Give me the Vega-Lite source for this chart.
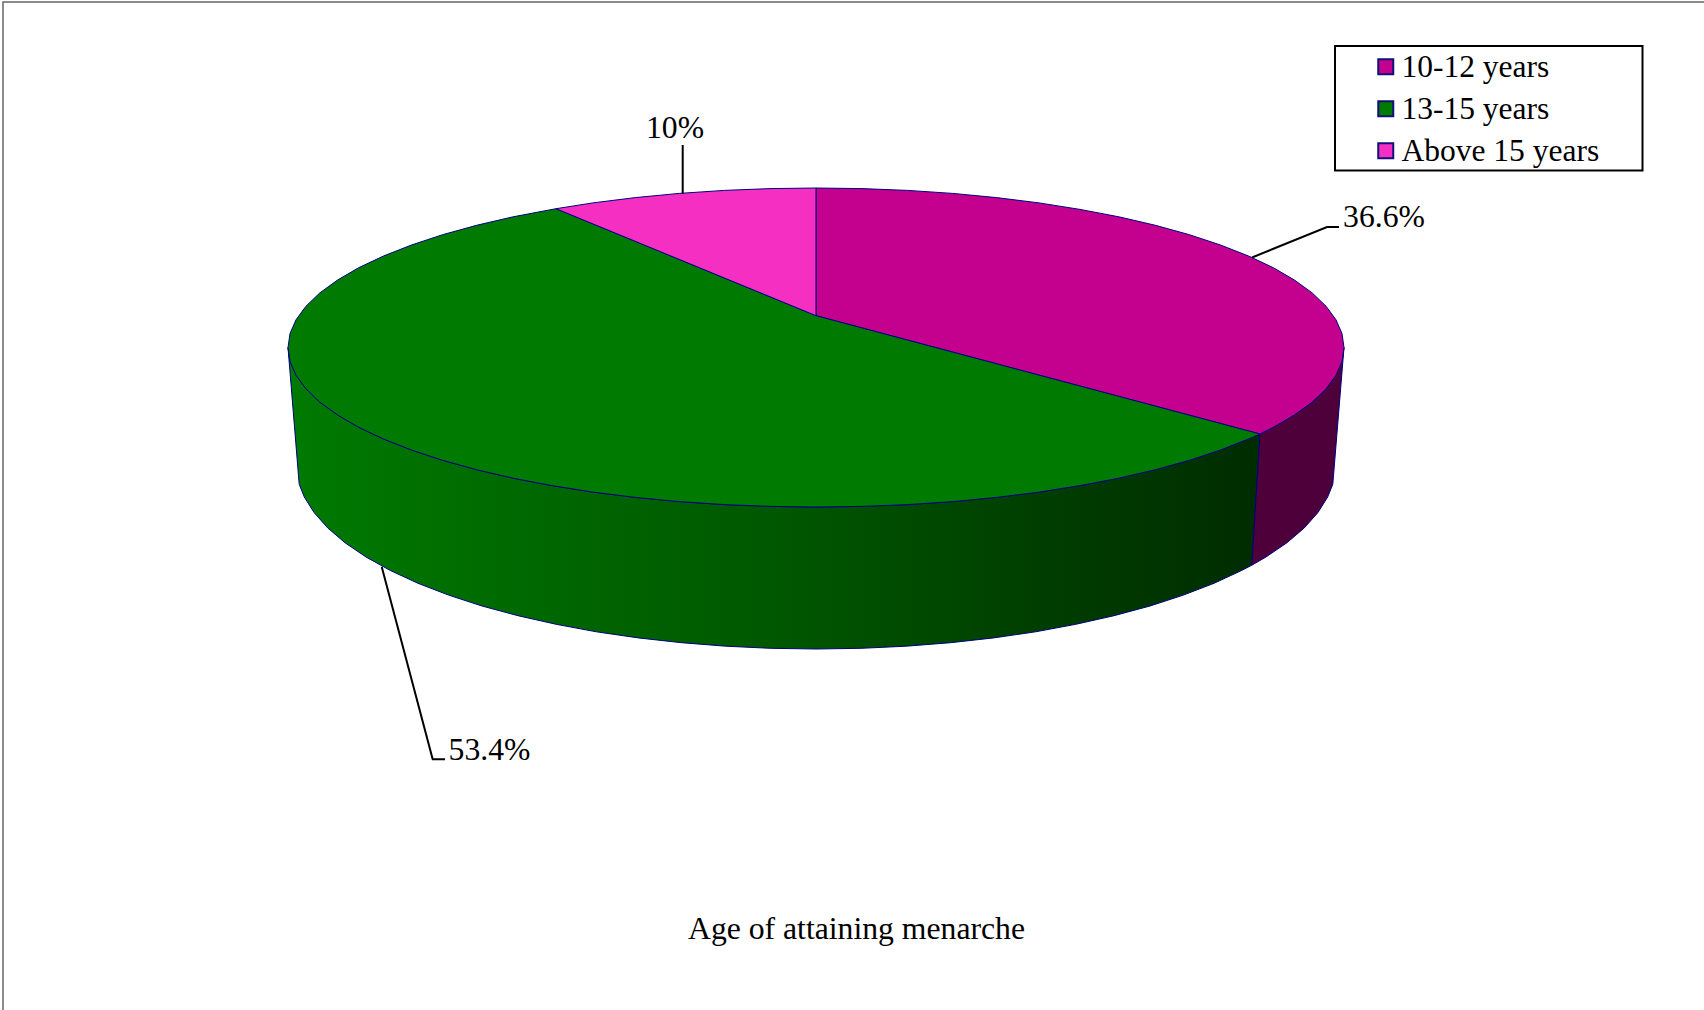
{
  "$schema": "https://vega.github.io/schema/vega-lite/v6.json",
  "width": 1704,
  "height": 1010,
  "padding": 0,
  "autosize": "none",
  "background": "white",
  "view": {"stroke": null},
  "config": {"font": "Liberation Serif"},
  "datasets": {
    "frame": [
      {"x": 3, "y": 1010}, {"x": 3, "y": 2}, {"x": 1704, "y": 2}
    ],
    "legendBox": [
      {"x": 1335, "x2": 1642.5, "y": 46, "y2": 170.5}
    ],
    "greenWall": [
      {"x": 288, "y": 347.5}, {"x": 299.2, "y": 484.2}, {"x": 304.3, "y": 497}, {"x": 314.1, "y": 512.6},
      {"x": 327.7, "y": 527.9}, {"x": 345.1, "y": 542.8}, {"x": 366, "y": 557}, {"x": 390.4, "y": 570.5},
      {"x": 418, "y": 583.3}, {"x": 448.6, "y": 595.1}, {"x": 482, "y": 606}, {"x": 518, "y": 615.7},
      {"x": 556.2, "y": 624.3}, {"x": 596.4, "y": 631.8}, {"x": 638.3, "y": 637.9}, {"x": 681.5, "y": 642.7},
      {"x": 725.8, "y": 646.2}, {"x": 770.7, "y": 648.3}, {"x": 816, "y": 649}, {"x": 861.3, "y": 648.3},
      {"x": 906.2, "y": 646.2}, {"x": 950.5, "y": 642.7}, {"x": 993.7, "y": 637.9}, {"x": 1035.6, "y": 631.8},
      {"x": 1075.8, "y": 624.3}, {"x": 1114, "y": 615.7}, {"x": 1150, "y": 606}, {"x": 1183.4, "y": 595.1},
      {"x": 1214, "y": 583.3}, {"x": 1241.6, "y": 570.5}, {"x": 1251.8, "y": 565.2}, {"x": 1260, "y": 434},
      {"x": 1248.5, "y": 439}, {"x": 1220.5, "y": 450}, {"x": 1189.4, "y": 460.3}, {"x": 1155.4, "y": 469.7},
      {"x": 1118.8, "y": 478.2}, {"x": 1080, "y": 485.6}, {"x": 1039.1, "y": 492.1}, {"x": 996.6, "y": 497.4},
      {"x": 952.7, "y": 501.6}, {"x": 907.7, "y": 504.6}, {"x": 862, "y": 506.4}, {"x": 816, "y": 507},
      {"x": 770, "y": 506.4}, {"x": 724.3, "y": 504.6}, {"x": 679.3, "y": 501.6}, {"x": 635.4, "y": 497.4},
      {"x": 592.9, "y": 492.1}, {"x": 552, "y": 485.6}, {"x": 513.2, "y": 478.2}, {"x": 476.6, "y": 469.7},
      {"x": 442.6, "y": 460.3}, {"x": 411.5, "y": 450}, {"x": 383.5, "y": 439}, {"x": 358.7, "y": 427.3},
      {"x": 337.5, "y": 414.9}, {"x": 319.8, "y": 402.1}, {"x": 306, "y": 388.8}, {"x": 296, "y": 375.2},
      {"x": 290, "y": 361.4}, {"x": 288, "y": 347.5}
    ],
    "magentaWall": [
      {"x": 1260, "y": 434}, {"x": 1251.8, "y": 565.2}, {"x": 1266, "y": 557}, {"x": 1286.9, "y": 542.8},
      {"x": 1304.3, "y": 527.9}, {"x": 1317.9, "y": 512.6}, {"x": 1327.7, "y": 497}, {"x": 1332.8, "y": 484.2},
      {"x": 1344, "y": 347.5}, {"x": 1342, "y": 361.4}, {"x": 1336, "y": 375.2}, {"x": 1326, "y": 388.8},
      {"x": 1312.2, "y": 402.1}, {"x": 1294.5, "y": 414.9}, {"x": 1273.3, "y": 427.3}, {"x": 1260, "y": 434}
    ],
    "slices": [
      {"age": "10-12 years", "x": 816, "y": 315.7}, {"age": "10-12 years", "x": 816, "y": 188},
      {"age": "10-12 years", "x": 862, "y": 188.6}, {"age": "10-12 years", "x": 907.7, "y": 190.4},
      {"age": "10-12 years", "x": 952.7, "y": 193.4}, {"age": "10-12 years", "x": 996.6, "y": 197.6},
      {"age": "10-12 years", "x": 1039.1, "y": 202.9}, {"age": "10-12 years", "x": 1080, "y": 209.4},
      {"age": "10-12 years", "x": 1118.8, "y": 216.8}, {"age": "10-12 years", "x": 1155.4, "y": 225.3},
      {"age": "10-12 years", "x": 1189.4, "y": 234.7}, {"age": "10-12 years", "x": 1220.5, "y": 245},
      {"age": "10-12 years", "x": 1248.5, "y": 256}, {"age": "10-12 years", "x": 1273.3, "y": 267.7},
      {"age": "10-12 years", "x": 1294.5, "y": 280.1}, {"age": "10-12 years", "x": 1312.2, "y": 292.9},
      {"age": "10-12 years", "x": 1326, "y": 306.2}, {"age": "10-12 years", "x": 1336, "y": 319.8},
      {"age": "10-12 years", "x": 1342, "y": 333.6}, {"age": "10-12 years", "x": 1344, "y": 347.5},
      {"age": "10-12 years", "x": 1342, "y": 361.4}, {"age": "10-12 years", "x": 1336, "y": 375.2},
      {"age": "10-12 years", "x": 1326, "y": 388.8}, {"age": "10-12 years", "x": 1312.2, "y": 402.1},
      {"age": "10-12 years", "x": 1294.5, "y": 414.9}, {"age": "10-12 years", "x": 1273.3, "y": 427.3},
      {"age": "10-12 years", "x": 1260, "y": 434}, {"age": "10-12 years", "x": 816, "y": 315.7},

      {"age": "13-15 years", "x": 816, "y": 315.7}, {"age": "13-15 years", "x": 1260, "y": 434},
      {"age": "13-15 years", "x": 1248.5, "y": 439}, {"age": "13-15 years", "x": 1220.5, "y": 450},
      {"age": "13-15 years", "x": 1189.4, "y": 460.3}, {"age": "13-15 years", "x": 1155.4, "y": 469.7},
      {"age": "13-15 years", "x": 1118.8, "y": 478.2}, {"age": "13-15 years", "x": 1080, "y": 485.6},
      {"age": "13-15 years", "x": 1039.1, "y": 492.1}, {"age": "13-15 years", "x": 996.6, "y": 497.4},
      {"age": "13-15 years", "x": 952.7, "y": 501.6}, {"age": "13-15 years", "x": 907.7, "y": 504.6},
      {"age": "13-15 years", "x": 862, "y": 506.4}, {"age": "13-15 years", "x": 816, "y": 507},
      {"age": "13-15 years", "x": 770, "y": 506.4}, {"age": "13-15 years", "x": 724.3, "y": 504.6},
      {"age": "13-15 years", "x": 679.3, "y": 501.6}, {"age": "13-15 years", "x": 635.4, "y": 497.4},
      {"age": "13-15 years", "x": 592.9, "y": 492.1}, {"age": "13-15 years", "x": 552, "y": 485.6},
      {"age": "13-15 years", "x": 513.2, "y": 478.2}, {"age": "13-15 years", "x": 476.6, "y": 469.7},
      {"age": "13-15 years", "x": 442.6, "y": 460.3}, {"age": "13-15 years", "x": 411.5, "y": 450},
      {"age": "13-15 years", "x": 383.5, "y": 439}, {"age": "13-15 years", "x": 358.7, "y": 427.3},
      {"age": "13-15 years", "x": 337.5, "y": 414.9}, {"age": "13-15 years", "x": 319.8, "y": 402.1},
      {"age": "13-15 years", "x": 306, "y": 388.8}, {"age": "13-15 years", "x": 296, "y": 375.2},
      {"age": "13-15 years", "x": 290, "y": 361.4}, {"age": "13-15 years", "x": 288, "y": 347.5},
      {"age": "13-15 years", "x": 290, "y": 333.6}, {"age": "13-15 years", "x": 296, "y": 319.8},
      {"age": "13-15 years", "x": 306, "y": 306.2}, {"age": "13-15 years", "x": 319.8, "y": 292.9},
      {"age": "13-15 years", "x": 337.5, "y": 280.1}, {"age": "13-15 years", "x": 358.7, "y": 267.7},
      {"age": "13-15 years", "x": 383.5, "y": 256}, {"age": "13-15 years", "x": 411.5, "y": 245},
      {"age": "13-15 years", "x": 442.6, "y": 234.7}, {"age": "13-15 years", "x": 476.6, "y": 225.3},
      {"age": "13-15 years", "x": 513.2, "y": 216.8}, {"age": "13-15 years", "x": 556, "y": 208.7},
      {"age": "13-15 years", "x": 816, "y": 315.7},

      {"age": "Above 15 years", "x": 816, "y": 315.7}, {"age": "Above 15 years", "x": 556, "y": 208.7},
      {"age": "Above 15 years", "x": 592.9, "y": 202.9}, {"age": "Above 15 years", "x": 635.4, "y": 197.6},
      {"age": "Above 15 years", "x": 679.3, "y": 193.4}, {"age": "Above 15 years", "x": 724.3, "y": 190.4},
      {"age": "Above 15 years", "x": 770, "y": 188.6}, {"age": "Above 15 years", "x": 816, "y": 188},
      {"age": "Above 15 years", "x": 816, "y": 315.7}
    ],
    "leaders": [
      {"slice": "10-12 years", "x": 1252, "y": 257.5}, {"slice": "10-12 years", "x": 1327, "y": 227}, {"slice": "10-12 years", "x": 1339, "y": 227},
      {"slice": "13-15 years", "x": 381.7, "y": 566.7}, {"slice": "13-15 years", "x": 432.7, "y": 759.3}, {"slice": "13-15 years", "x": 445, "y": 759.3},
      {"slice": "Above 15 years", "x": 682.7, "y": 194}, {"slice": "Above 15 years", "x": 682.7, "y": 145}
    ],
    "labels": [
      {"label": "36.6%", "x": 1384, "y": 227},
      {"label": "53.4%", "x": 489.5, "y": 759.5},
      {"label": "10%", "x": 675, "y": 138},
      {"label": "Age of attaining menarche", "x": 856.5, "y": 939}
    ]
  },
  "encoding": {
    "x": {"field": "x", "type": "quantitative", "axis": null, "scale": {"domain": [0, 1704], "nice": false, "zero": false}},
    "y": {"field": "y", "type": "quantitative", "axis": null, "scale": {"domain": [1010, 0], "nice": false, "zero": false}},
    "order": {"value": null}
  },
  "layer": [
    {
      "data": {"name": "frame"},
      "mark": {"type": "line", "stroke": "#666666", "strokeWidth": 1.5, "clip": false}
    },
    {
      "data": {"name": "greenWall"},
      "mark": {
        "type": "line",
        "stroke": "#000080",
        "strokeWidth": 1,
        "fill": {
          "gradient": "linear", "x1": 0, "x2": 1, "y1": 0, "y2": 0,
          "stops": [
            {"offset": 0, "color": "#007a00"},
            {"offset": 0.25, "color": "#006800"},
            {"offset": 0.5, "color": "#005800"},
            {"offset": 0.75, "color": "#004000"},
            {"offset": 1, "color": "#002c00"}
          ]
        }
      }
    },
    {
      "data": {"name": "magentaWall"},
      "mark": {"type": "line", "stroke": "#000080", "strokeWidth": 1, "fill": "#4e003a"}
    },
    {
      "data": {"name": "slices"},
      "mark": {"type": "line", "stroke": "#000080", "strokeWidth": 1},
      "encoding": {
        "fill": {
          "field": "age",
          "type": "nominal",
          "scale": {
            "domain": ["10-12 years", "13-15 years", "Above 15 years"],
            "range": ["#c4008f", "#007a00", "#f52fc2"]
          },
          "legend": {
            "title": null,
            "orient": "none",
            "legendX": 1335,
            "legendY": 46,
            "padding": 5,
            "symbolType": "square",
            "symbolSize": 225,
            "symbolStrokeColor": "#10107c",
            "symbolStrokeWidth": 2,
            "symbolOffset": 30,
            "labelFont": "Liberation Serif",
            "labelFontSize": 31.5,
            "labelColor": "black",
            "labelLimit": 400,
            "labelOffset": 0,
            "rowPadding": 9,
            "encode": {"labels": {"update": {"dy": {"value": 1}}}}
          }
        }
      }
    },
    {
      "data": {"name": "legendBox"},
      "mark": {"type": "rect", "fill": null, "stroke": "black", "strokeWidth": 2},
      "encoding": {
        "x2": {"field": "x2"},
        "y2": {"field": "y2"}
      }
    },
    {
      "data": {"name": "leaders"},
      "mark": {"type": "line", "stroke": "black", "strokeWidth": 2},
      "encoding": {"detail": {"field": "slice"}}
    },
    {
      "data": {"name": "labels"},
      "mark": {"type": "text", "font": "Liberation Serif", "fontSize": 31.7, "align": "center", "baseline": "alphabetic", "fill": "black"},
      "encoding": {"text": {"field": "label"}}
    }
  ]
}
